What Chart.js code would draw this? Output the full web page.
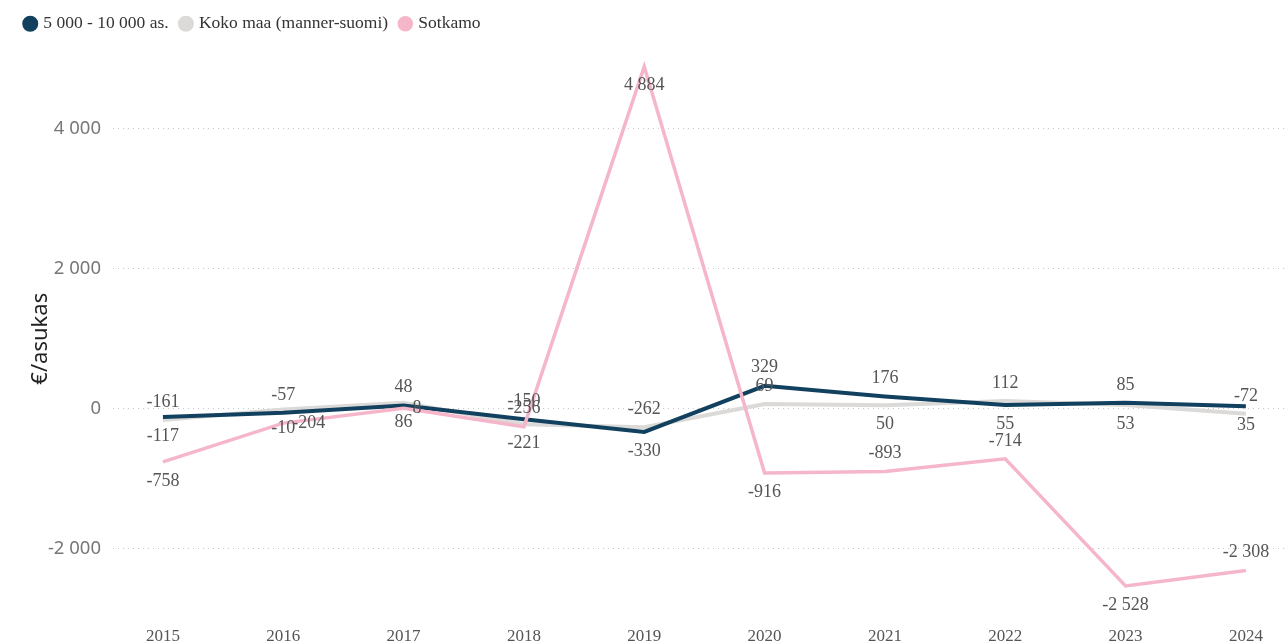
<!DOCTYPE html>
<html>
<head>
<meta charset="utf-8">
<script src="https://cdn.jsdelivr.net/npm/chart.js@4/dist/chart.umd.min.js"></script>
<style>
  html, body { margin: 0; padding: 0; background: #fff; }
  #wrap { width: 1288px; height: 644px; }
</style>
</head>
<body>
<div id="wrap"><canvas id="kuvaaja"></canvas></div>
<script>
const years = [2015, 2016, 2017, 2018, 2019, 2020, 2021, 2022, 2023, 2024];
const size5to10 = [-117, -57, 48, -150, -330, 329, 176, 55, 85, 35];
const kokoMaa = [-161, -10, 86, -221, -262, 69, 50, 112, 53, -72];
const sotkamo = [-758, -204, 8, -256, 4884, -916, -893, -714, -2528, -2308];
const yTicks = [-2000, 0, 2000, 4000];

// where each data label goes: a = above, b = below, r = right
const labelPos = [
    ['b', 'a', 'a', 'a', 'b', 'a', 'a', 'b', 'a', 'b'],
    ['a', 'b', 'b', 'b', 'a', 'a', 'b', 'a', 'b', 'a'],
    ['b', 'r', 'r', 'a', 'b', 'b', 'a', 'a', 'b', 'a']
];

function fmt(v) {
    const s = Math.abs(v).toString().replace(/\B(?=(\d{3})+(?!\d))/g, ' ');
    return (v < 0 ? '-' : '') + s;
}

const pointsOf = arr => years.map((y, i) => ({ x: y, y: arr[i] }));

const dataLabels = {
    id: 'dataLabels',
    afterDatasetsDraw(chart) {
        const ctx = chart.ctx;
        ctx.save();
        ctx.font = '18px "Liberation Serif"';
        ctx.fillStyle = '#555';
        ctx.textBaseline = 'middle';
        chart.data.datasets.forEach((ds, di) => {
            const meta = chart.getDatasetMeta(di);
            meta.data.forEach((pt, i) => {
                const pos = labelPos[di][i];
                const txt = fmt(ds.data[i].y);
                if (pos === 'r') {
                    ctx.textAlign = 'left';
                    ctx.fillText(txt, pt.x + 9, pt.y);
                } else {
                    ctx.textAlign = 'center';
                    ctx.fillText(txt, pt.x, pt.y + (pos === 'a' ? -18 : 19));
                }
            });
        });
        ctx.restore();
    }
};

// extra room between legend and plot
const legendGap = {
    id: 'legendGap',
    beforeInit(chart) {
        const fit = chart.legend.fit;
        chart.legend.fit = function () {
            fit.call(this);
            this.height += 16;
        };
    }
};

const ctx = document.getElementById('kuvaaja').getContext('2d');
new Chart(ctx, {
    type: 'line',
    data: {
        datasets: [
            {
                label: '5 000 - 10 000 as.',
                data: pointsOf(size5to10),
                borderColor: '#12405f',
                backgroundColor: '#12405f',
                borderWidth: 4,
                order: 1
            },
            {
                label: 'Koko maa (manner-suomi)',
                data: pointsOf(kokoMaa),
                borderColor: '#dcdad8',
                backgroundColor: '#dcdad8',
                borderWidth: 4,
                order: 2
            },
            {
                label: 'Sotkamo',
                data: pointsOf(sotkamo),
                borderColor: '#f6b6ca',
                backgroundColor: '#f6b6ca',
                borderWidth: 3.5,
                order: 0
            }
        ]
    },
    options: {
        responsive: true,
        maintainAspectRatio: false,
        animation: false,
        layout: { padding: { left: 13, right: 0, top: 2, bottom: 0 } },
        elements: {
            point: { radius: 0, hoverRadius: 0 },
            line: { tension: 0 }
        },
        plugins: {
            tooltip: { enabled: false },
            legend: {
                position: 'top',
                align: 'start',
                labels: {
                    usePointStyle: true,
                    pointStyle: 'circle',
                    boxWidth: 8.5,
                    boxHeight: 8.5,
                    padding: 13,
                    color: '#333',
                    font: { family: 'Liberation Serif', size: 17.5 },
                    sort: (a, b) => a.datasetIndex - b.datasetIndex
                }
            }
        },
        scales: {
            x: {
                type: 'linear',
                min: 2014.585,
                max: 2024.35,
                afterBuildTicks: s => { s.ticks = years.map(v => ({ value: v })); },
                afterFit: s => { s.height = 25; },
                ticks: {
                    callback: v => String(v),
                    color: '#555',
                    padding: -1,
                    maxRotation: 0,
                    font: { family: 'Liberation Serif', size: 17 }
                },
                grid: { display: false },
                border: { display: false }
            },
            y: {
                min: -3000,
                max: 5000,
                afterBuildTicks: s => { s.ticks = yTicks.map(v => ({ value: v })); },
                afterFit: s => { s.width = 100; },
                ticks: {
                    callback: v => fmt(v),
                    color: '#777',
                    padding: 12,
                    font: { family: 'Noto Sans', size: 18.5 }
                },
                grid: {
                    color: '#c8c8c8',
                    lineWidth: 1,
                    drawTicks: false
                },
                border: { display: false, dash: [1, 4] },
                title: {
                    display: true,
                    text: '€/asukas',
                    color: '#222',
                    padding: { top: 15, bottom: 0 },
                    font: { family: 'Noto Sans', size: 22 }
                }
            }
        }
    },
    plugins: [dataLabels, legendGap]
});
</script>
</body>
</html>
